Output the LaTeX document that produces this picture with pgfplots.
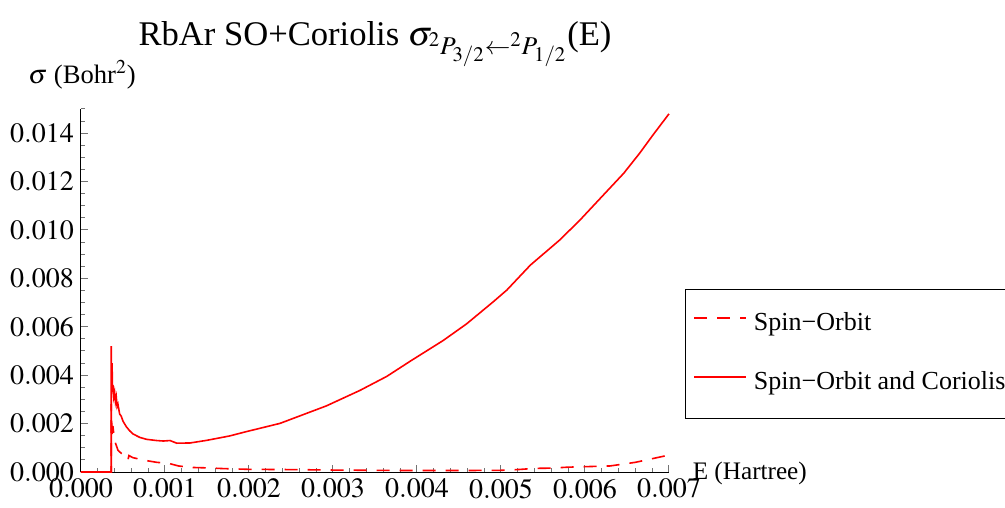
\documentclass[border=0pt]{standalone}
\usepackage{mathptmx}
\usepackage{fontspec}
\setmainfont{Liberation Serif}
\usepackage{pgfplots}
\pgfplotsset{compat=1.18}
\begin{document}
\begin{tikzpicture}
\begin{axis}[
  at={(0,0)}, anchor=south west,
  scale only axis, width=294bp, height=181.5bp,
  xmin=0, xmax=0.007, ymin=0, ymax=0.015,
  axis lines*=left,
  axis line style={black, line width=0.5bp},
  tick align=inside,
  major tick length=3.3bp, minor tick length=2bp,
  every tick/.style={black!55, line width=0.5bp},
  xtick={0,0.001,0.002,0.003,0.004,0.005,0.006,0.007},
  ytick={0,0.002,0.004,0.006,0.008,0.010,0.012,0.014},
  minor xtick={0.0002,0.0004,0.0006,0.0008,0.0012,0.0014,0.0016,0.0018,0.0022,0.0024,0.0026,0.0028,0.0032,0.0034,0.0036,0.0038,0.0042,0.0044,0.0046,0.0048,0.0052,0.0054,0.0056,0.0058,0.0062,0.0064,0.0066,0.0068},
  minor ytick={0.0005,0.001,0.0015,0.0025,0.003,0.0035,0.0045,0.005,0.0055,0.0065,0.007,0.0075,0.0085,0.009,0.0095,0.0105,0.011,0.0115,0.0125,0.013,0.0135,0.0145,0.015},
  scaled ticks=false,
  xticklabel style={/pgf/number format/.cd, fixed, fixed zerofill, precision=3},
  yticklabel style={/pgf/number format/.cd, fixed, fixed zerofill, precision=3},
  tick label style={font=\fontsize{14bp}{16bp}\selectfont},
  clip=false,
  title={RbAr SO+Coriolis $\sigma_{{}^2P_{3/2}\leftarrow{}^2P_{1/2}}$(E)},
  every axis title/.style={at={(axis description cs:0.5,1.1763)}, anchor=base, font=\fontsize{17.3bp}{20bp}\selectfont},
  xlabel={E (Hartree)},
  every axis x label/.style={at={(axis description cs:1.0398,0)}, anchor=base west, inner sep=0pt, yshift=-3.65bp, font=\fontsize{12.6bp}{15bp}\selectfont},
  ylabel={$\sigma$ (Bohr$^2$)},
  every axis y label/.style={at={(axis description cs:-0.0901,1.0716)}, anchor=base west, inner sep=0pt, font=\fontsize{13.3bp}{16bp}\selectfont},
  legend style={at={(axis description cs:1.0272,0.503)}, anchor=north west,
    draw, fill=white,
    font=\fontsize{13bp}{15bp}\selectfont,
    inner xsep=4bp, inner ysep=11.4bp, row sep=17.5bp,
    nodes={inner sep=0pt, text height=9bp, text depth=3bp}},
  legend cell align=left,
  legend image code/.code={\draw[#1] (0bp,3.2bp) -- (26bp,3.2bp); \path (29.5bp,3.2bp);},
]
\addplot[red, line width=0.8bp, dash pattern=on 6.5bp off 5bp] coordinates {
(0,0) (0.00036,0) (0.00036,0.0028) (0.00037,0.0014) (0.00038,0.0019) (0.000385,0.00174)
(0.0004,0.0013) (0.00044,0.0009) (0.00048,0.00077) (0.00052,0.00066) (0.00055,0.0006)
(0.00056,0.0005) (0.00057,0.00068) (0.00062,0.00059) (0.00078,0.00047) (0.0009,0.0004)
(0.00104,0.00036) (0.00116,0.00025) (0.0013,0.00019) (0.0015,0.00017) (0.0017,0.00014)
(0.002,0.00011) (0.0025,0.0001) (0.003,0.00008) (0.0035,0.00007) (0.004,0.00006)
(0.0045,0.00006) (0.005,0.00007) (0.0052,0.0001) (0.0054,0.00015) (0.0056,0.00016)
(0.0058,0.0002) (0.0061,0.00023) (0.0063,0.00025) (0.0065,0.00035) (0.0066,0.0004)
(0.0068,0.00055) (0.007,0.0007)
};
\addlegendentry{Spin−Orbit}
\addplot[red, line width=0.8bp] coordinates {
(0,0) (0.00036,0) (0.00036,0.0052) (0.000365,0.0036) (0.00037,0.0045) (0.000375,0.0033)
(0.00038,0.0036) (0.00039,0.0031) (0.0004,0.0033) (0.00041,0.0029) (0.00042,0.0031)
(0.00043,0.0027) (0.00044,0.0028) (0.00046,0.0024) (0.00048,0.0023) (0.0005,0.0021)
(0.00054,0.00187) (0.00058,0.0017) (0.00062,0.00157) (0.0007,0.00143) (0.00078,0.00135)
(0.0009,0.0013) (0.00098,0.00128) (0.00106,0.0013) (0.00114,0.00119) (0.0013,0.0012)
(0.0015,0.00131) (0.00177,0.00149) (0.00197,0.00167) (0.0021,0.00178) (0.00237,0.00201)
(0.00253,0.00222) (0.00292,0.00273) (0.00332,0.00337) (0.00364,0.00395) (0.00392,0.00458)
(0.00431,0.00543) (0.00459,0.00612) (0.00491,0.00704) (0.00507,0.00752) (0.00535,0.00855)
(0.0057,0.00959) (0.00594,0.01041) (0.00622,0.01145) (0.00646,0.01234) (0.00665,0.01317)
(0.00681,0.01393) (0.007,0.0148)
};
\addlegendentry{Spin−Orbit and Coriolis}
\end{axis}
\pgfresetboundingbox
\useasboundingbox (-40.5bp,-18bp) rectangle (462bp,236bp);
\end{tikzpicture}
\end{document}
